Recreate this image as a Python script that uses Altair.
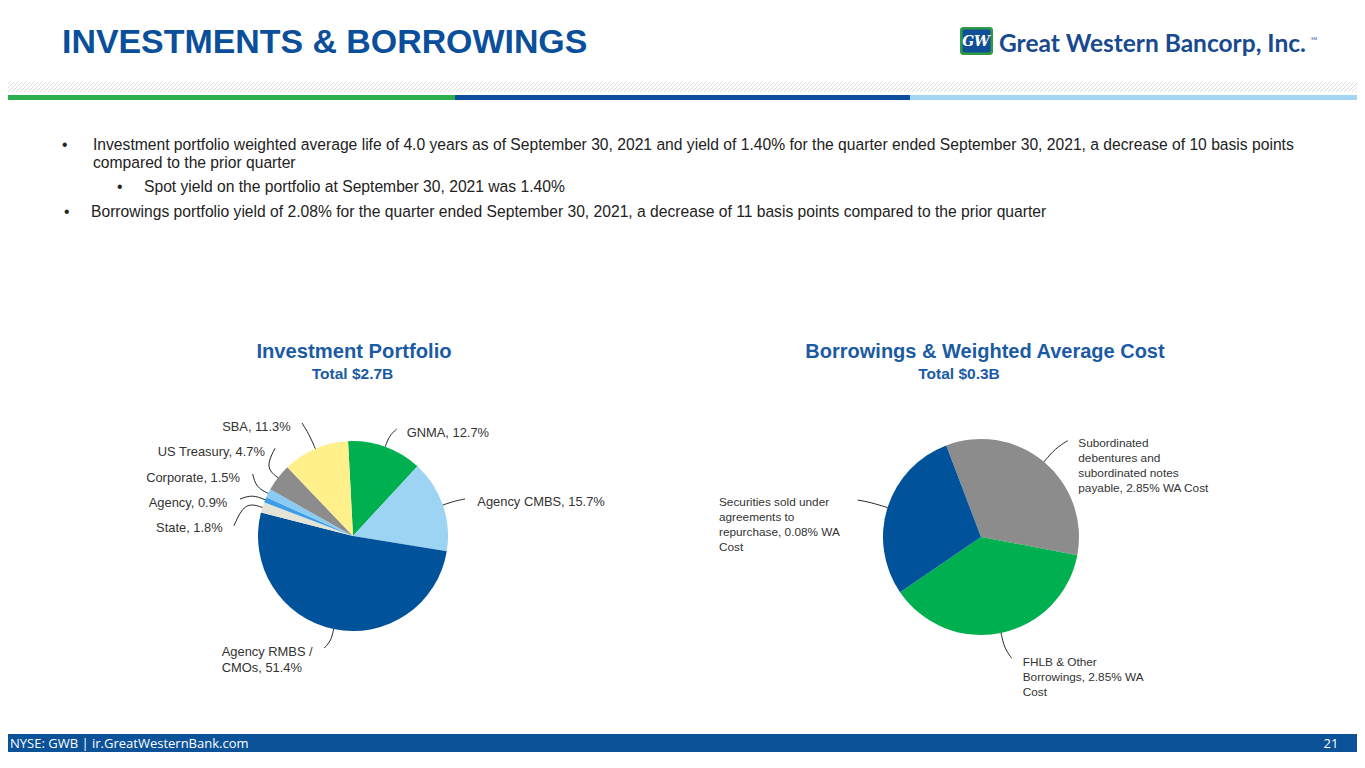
import math
import textwrap
import altair as alt
import pandas as pd

# ---------------- data ----------------
INV_NAMES = ["GNMA", "Agency CMBS", "Agency RMBS / CMOs", "State", "Agency",
             "Corporate", "US Treasury", "SBA"]
INV_PCT = [12.7, 15.7, 51.4, 1.8, 0.9, 1.5, 4.7, 11.3]
INV_COLORS = ["#00B050", "#9DD3F3", "#00529B", "#E3E3D6", "#3C9CE8",
              "#8ACBF4", "#8C8C8C", "#FFF08C"]

BOR_NAMES = ["Subordinated debentures and subordinated notes payable",
             "FHLB & Other Borrowings",
             "Securities sold under agreements to repurchase"]
BOR_AMT = [108, 120, 92]          # $M
BOR_COST = [2.85, 2.85, 0.08]     # WA cost, %
BOR_COLORS = ["#8C8C8C", "#00B050", "#00529B"]

BULLETS = [
    "Investment portfolio weighted average life of 4.0 years as of September 30, 2021 and yield of 1.40% for the quarter ended September 30, 2021, a decrease of 10 basis points",
    "compared to the prior quarter",
    "Spot yield on the portfolio at September 30, 2021 was 1.40%",
    "Borrowings portfolio yield of 2.08% for the quarter ended September 30, 2021, a decrease of 11 basis points compared to the prior quarter",
]

# ---------------- layout ----------------
W, H = 1349, 744
OX, OY = 8, 8


def X(v):
    return v - OX


def Y(v):
    return v - OY


XS = alt.Scale(domain=[0, W], range=[0, W], nice=False, zero=False)
YS = alt.Scale(domain=[0, H], range=[0, H], nice=False, zero=False)

P1 = dict(cx=353, cy=536, r=95, start=-3.0)
P2 = dict(cx=981, cy=537, r=98, start=-20.8)

# leader-line end and text anchor, relative to each pie centre
LAY1 = [
    dict(end=(43.7, -107), txt=(53.7, -103), align="left", wrap=40),
    dict(end=(112, -37), txt=(124.3, -34.3), align="left", wrap=40),
    dict(end=(-28.7, 112), txt=(-131.3, 116.3), align="left", wrap=13),
    dict(end=(-119, -10.3), txt=(-130.3, -7.7), align="right", wrap=40),
    dict(end=(-113, -37), txt=(-125.7, -33), align="right", wrap=40),
    dict(end=(-100.3, -62), txt=(-113, -58.3), align="right", wrap=40),
    dict(end=(-78, -87.7), txt=(-88, -84.3), align="right", wrap=40),
    dict(end=(-51, -113), txt=(-62.3, -109.3), align="right", wrap=40),
]
LAY2 = [
    dict(end=(86.7, -96.3), txt=(97.3, -93.7), align="left", wrap=22),
    dict(end=(30.7, 121.3), txt=(41.7, 124.7), align="left", wrap=20),
    dict(end=(-123.3, -37), txt=(-262, -35.3), align="left", wrap=21),
]

TEXT_FONT = "Liberation Sans"
LABEL_COLOR = "#333333"
BODY = 15.65


def txt(s, x, y, size, color, weight="normal", align="left", font=TEXT_FONT,
        baseline="alphabetic", style="normal"):
    return alt.Chart(pd.DataFrame({"t": [s]})).mark_text(
        align=align, baseline=baseline, fontSize=size, font=font,
        fontWeight=weight, color=color, fontStyle=style,
    ).encode(text="t:N", x=alt.value(X(x)), y=alt.value(Y(y)))


def rect(x1, x2, y1, y2, color, radius=0):
    return alt.Chart(pd.DataFrame({"a": [0]})).mark_rect(
        color=color, cornerRadius=radius).encode(
        x=alt.value(X(x1)), x2=alt.value(X(x2)),
        y=alt.value(Y(y1)), y2=alt.value(Y(y2)))


def pie(names, vals, colors, geo):
    df = pd.DataFrame({"name": names, "val": vals, "idx": list(range(len(names)))})
    s = math.radians(geo["start"])
    return alt.Chart(df).mark_arc(outerRadius=geo["r"]).encode(
        theta=alt.Theta("val:Q", stack=True,
                        scale=alt.Scale(range=[s, s + 2 * math.pi])),
        color=alt.Color("name:N", scale=alt.Scale(domain=names, range=colors),
                        legend=None),
        order=alt.Order("idx:Q"),
        x=alt.value(X(geo["cx"])), y=alt.value(Y(geo["cy"])),
    )


def annotations(labels, vals, geo, layout, fsize, lh):
    total = float(sum(vals))
    cum = 0.0
    lines, left, right = [], [], []
    cx, cy, r = geo["cx"], geo["cy"], geo["r"]
    for i, (lbl, v, lay) in enumerate(zip(labels, vals, layout)):
        mid = geo["start"] + 360.0 * (cum + v / 2.0) / total
        cum += v
        a = math.radians(mid)
        ux, uy = math.sin(a), -math.cos(a)
        sx, sy = cx + r * ux, cy + r * uy
        ex, ey = cx + lay["end"][0], cy + lay["end"][1]
        d = math.hypot(ex - sx, ey - sy)
        kx, ky = cx + (r + 0.55 * d) * ux, cy + (r + 0.55 * d) * uy
        lines += [
            {"id": i, "k": 0, "x": X(sx), "y": Y(sy)},
            {"id": i, "k": 1, "x": X(kx), "y": Y(ky)},
            {"id": i, "k": 2, "x": X(ex), "y": Y(ey)},
        ]
        tx, ty = cx + lay["txt"][0], cy + lay["txt"][1]
        for j, line in enumerate(textwrap.wrap(lbl, lay["wrap"])):
            row = {"t": line, "x": X(tx), "y": Y(ty + j * lh)}
            (left if lay["align"] == "left" else right).append(row)
    out = [alt.Chart(pd.DataFrame(lines)).mark_line(
        interpolate="basis", color="#262626", strokeWidth=1).encode(
        x=alt.X("x:Q", scale=XS, axis=None),
        y=alt.Y("y:Q", scale=YS, axis=None),
        detail="id:N", order="k:Q")]
    for rows, al in ((left, "left"), (right, "right")):
        if rows:
            out.append(alt.Chart(pd.DataFrame(rows)).mark_text(
                align=al, baseline="middle", fontSize=fsize, font=TEXT_FONT,
                color=LABEL_COLOR).encode(
                x=alt.X("x:Q", scale=XS, axis=None),
                y=alt.Y("y:Q", scale=YS, axis=None),
                text="t:N"))
    return out


# ---------------- decoration ----------------
hatch = pd.DataFrame({
    "x": [X(i) for i in range(-12, 1380, 4)],
})
hatch["x2"] = hatch["x"] + 10
hatch["y"] = Y(92)
hatch["y2"] = Y(82)
hatch_layer = alt.Chart(hatch).mark_rule(color="#DCDCDC", strokeWidth=1).encode(
    x=alt.X("x:Q", scale=XS, axis=None), x2="x2:Q",
    y=alt.Y("y:Q", scale=YS, axis=None), y2="y2:Q")

layers = [
    hatch_layer,
    rect(0, 455, 95, 100, "#2DB04B"),
    rect(455, 910, 95, 100, "#0D4F9E"),
    rect(910, 1365, 95, 100, "#A3D5F4"),
    txt("INVESTMENTS & BORROWINGS", 62, 53, 33.9, "#0A4F9B", weight="bold"),
    # logo
    rect(960, 993, 27, 55, "#2E9A47", radius=3),
    rect(962.5, 990.5, 29.5, 52.5, "#0F4F98", radius=2),
    txt("GW", 976, 46, 14, "white", weight="bold", align="center",
        font="DejaVu Serif", style="italic"),
    txt("Great Western Bancorp, Inc.", 999, 52, 24.5, "#174A8E", weight="bold",
        font="Lato"),
    txt("SM", 1311, 40, 4, "#174A8E"),
    # bullets
    txt("\u2022", 62, 150, BODY, "#222222"),
    txt(BULLETS[0], 93, 150, BODY, "#222222"),
    txt(BULLETS[1], 93, 168, BODY, "#222222"),
    txt("\u2022", 117, 192, BODY, "#222222"),
    txt(BULLETS[2], 144, 192, BODY, "#222222"),
    txt("\u2022", 64, 217, BODY, "#222222"),
    txt(BULLETS[3], 91, 217, BODY, "#222222"),
    # chart titles
    txt("Investment Portfolio", 354, 358, 20.2, "#1B5BA3", weight="bold", align="center"),
    txt("Total $2.7B", 352.5, 379, 15.5, "#1B5BA3", weight="bold", align="center"),
    txt("Borrowings & Weighted Average Cost", 985, 358, 20, "#1B5BA3",
        weight="bold", align="center"),
    txt("Total $0.3B", 959, 379, 15.5, "#1B5BA3", weight="bold", align="center"),
    # pies
    pie(INV_NAMES, INV_PCT, INV_COLORS, P1),
    pie(BOR_NAMES, BOR_AMT, BOR_COLORS, P2),
]

inv_labels = [f"{n}, {p}%" for n, p in zip(INV_NAMES, INV_PCT)]
bor_labels = [f"{n}, {c:.2f}% WA Cost" for n, c in zip(BOR_NAMES, BOR_COST)]
layers += annotations(inv_labels, INV_PCT, P1, LAY1, 12.9, 16)
layers += annotations(bor_labels, BOR_AMT, P2, LAY2, 11.8, 15)

# footer (moved up so that it stays inside the page)
layers += [
    rect(0, 1365, 734, 752, "#0B5299"),
    txt("NYSE: GWB  |  ir.GreatWesternBank.com", 10, 747.5, 13, "white", font="Open Sans"),
    txt("21", 1331, 747.5, 13, "white", font="Open Sans", align="center"),
]

chart = alt.layer(*layers).resolve_scale(
    theta="independent", color="independent"
).properties(
    width=W, height=H, padding=0,
    autosize=alt.AutoSizeParams(type="none"),
    background="white",
).configure_view(stroke=None)

chart.save("out.html", embed_options={"renderer": "svg", "actions": False})
